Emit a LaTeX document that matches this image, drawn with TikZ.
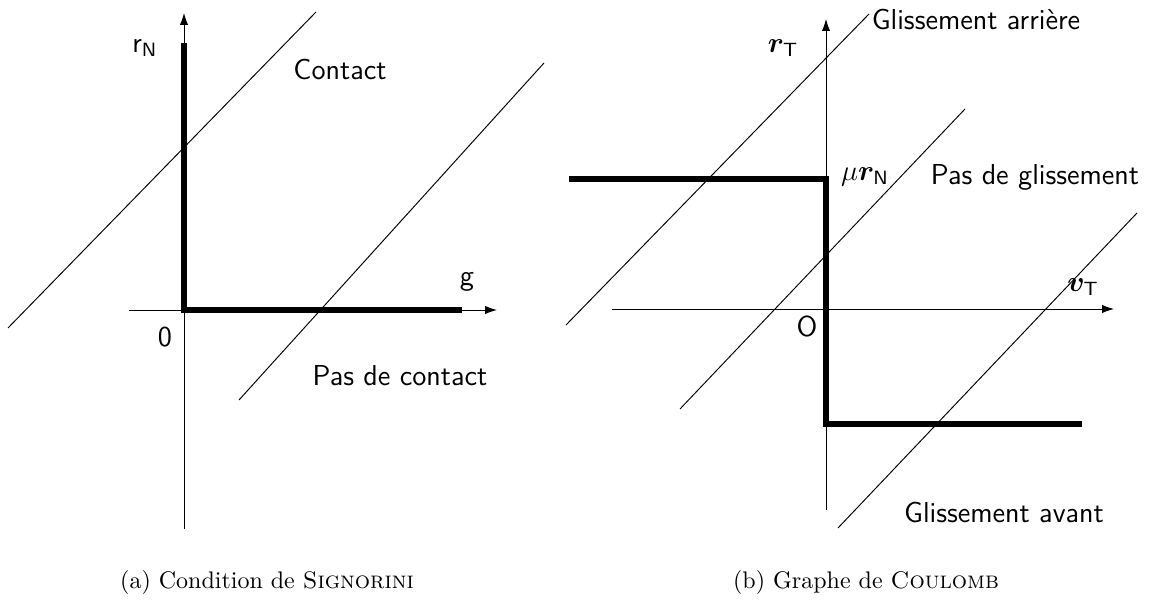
\documentclass[tikz,border=0pt]{standalone}
\usepackage{bm}
\usetikzlibrary{arrows.meta}
\begin{document}
\begin{tikzpicture}[x=0.41667pt,y=-0.41667pt,
  axis/.style={line width=0.4pt,-{Latex[length=5pt,width=3.5pt]}},
  diag/.style={line width=0.4pt},
  graphline/.style={line width=2.1pt},
  lbl/.style={font=\sffamily\large,inner sep=0pt},
  captext/.style={font=\normalsize,inner sep=0pt}]
\useasboundingbox (0,0) rectangle (1163,605);
% ---------- (a) Signorini ----------
\coordinate (aYb) at (184,529);
\coordinate (aYt) at (184,13);
\coordinate (aXl) at (129,310);
\coordinate (aXr) at (497,310);
\coordinate (aO) at (184,310);
\coordinate (aTop) at (184,43);
\coordinate (aRight) at (462,310);
\coordinate (aD1s) at (8,328);
\coordinate (aD1e) at (316,12);
\coordinate (aD2s) at (239,400);
\coordinate (aD2e) at (544,63);
\draw[axis] (aYb) -- (aYt);
\draw[axis] (aXl) -- (aXr);
\draw[diag] (aD1s) -- (aD1e);
\draw[diag] (aD2s) -- (aD2e);
\draw[graphline] (aTop) -- (aO) -- (aRight);
\node[lbl] (rN) at (145,48) {r$_{\mathsf{N}}$};
\node[lbl] (contact) at (340,70) {Contact};
\node[lbl] (g) at (467,282) {g};
\node[lbl] (zero) at (165,337) {0};
\node[lbl] (pascontact) at (400,376) {Pas de contact};
\node[captext] (capa) at (267,583) {(a) Condition de \textsc{Signorini}};
% ---------- (b) Coulomb ----------
\coordinate (bYb) at (826,510);
\coordinate (bYt) at (826,19);
\coordinate (bXl) at (612,309);
\coordinate (bXr) at (1114,309);
\coordinate (bP1) at (569,179);
\coordinate (bP2) at (826,179);
\coordinate (bP3) at (826,424);
\coordinate (bP4) at (1082,424);
\coordinate (bD1s) at (566,325);
\coordinate (bD1e) at (869,14);
\coordinate (bD2s) at (680,409);
\coordinate (bD2e) at (965,109);
\coordinate (bD3s) at (838,528);
\coordinate (bD3e) at (1137,213);
\draw[axis] (bYb) -- (bYt);
\draw[axis] (bXl) -- (bXr);
\draw[diag] (bD1s) -- (bD1e);
\draw[diag] (bD2s) -- (bD2e);
\draw[diag] (bD3s) -- (bD3e);
\draw[graphline] (bP1) -- (bP2) -- (bP3) -- (bP4);
\node[lbl] (rT) at (783,48) {$\bm{r}_{\mathsf{T}}$};
\node[lbl] (garr) at (976,20) {Glissement arrière};
\node[lbl] (murN) at (865,177) {$\mu\bm{r}_{\mathsf{N}}$};
\node[lbl] (pasgl) at (1035,177) {Pas de glissement};
\node[lbl] (vT) at (1083,287) {$\bm{v}_{\mathsf{T}}$};
\node[lbl] (Ob) at (807,327) {O};
\node[lbl] (gav) at (1004,513) {Glissement avant};
\node[captext] (capb) at (866,583) {(b) Graphe de \textsc{Coulomb}};
\end{tikzpicture}
\end{document}
